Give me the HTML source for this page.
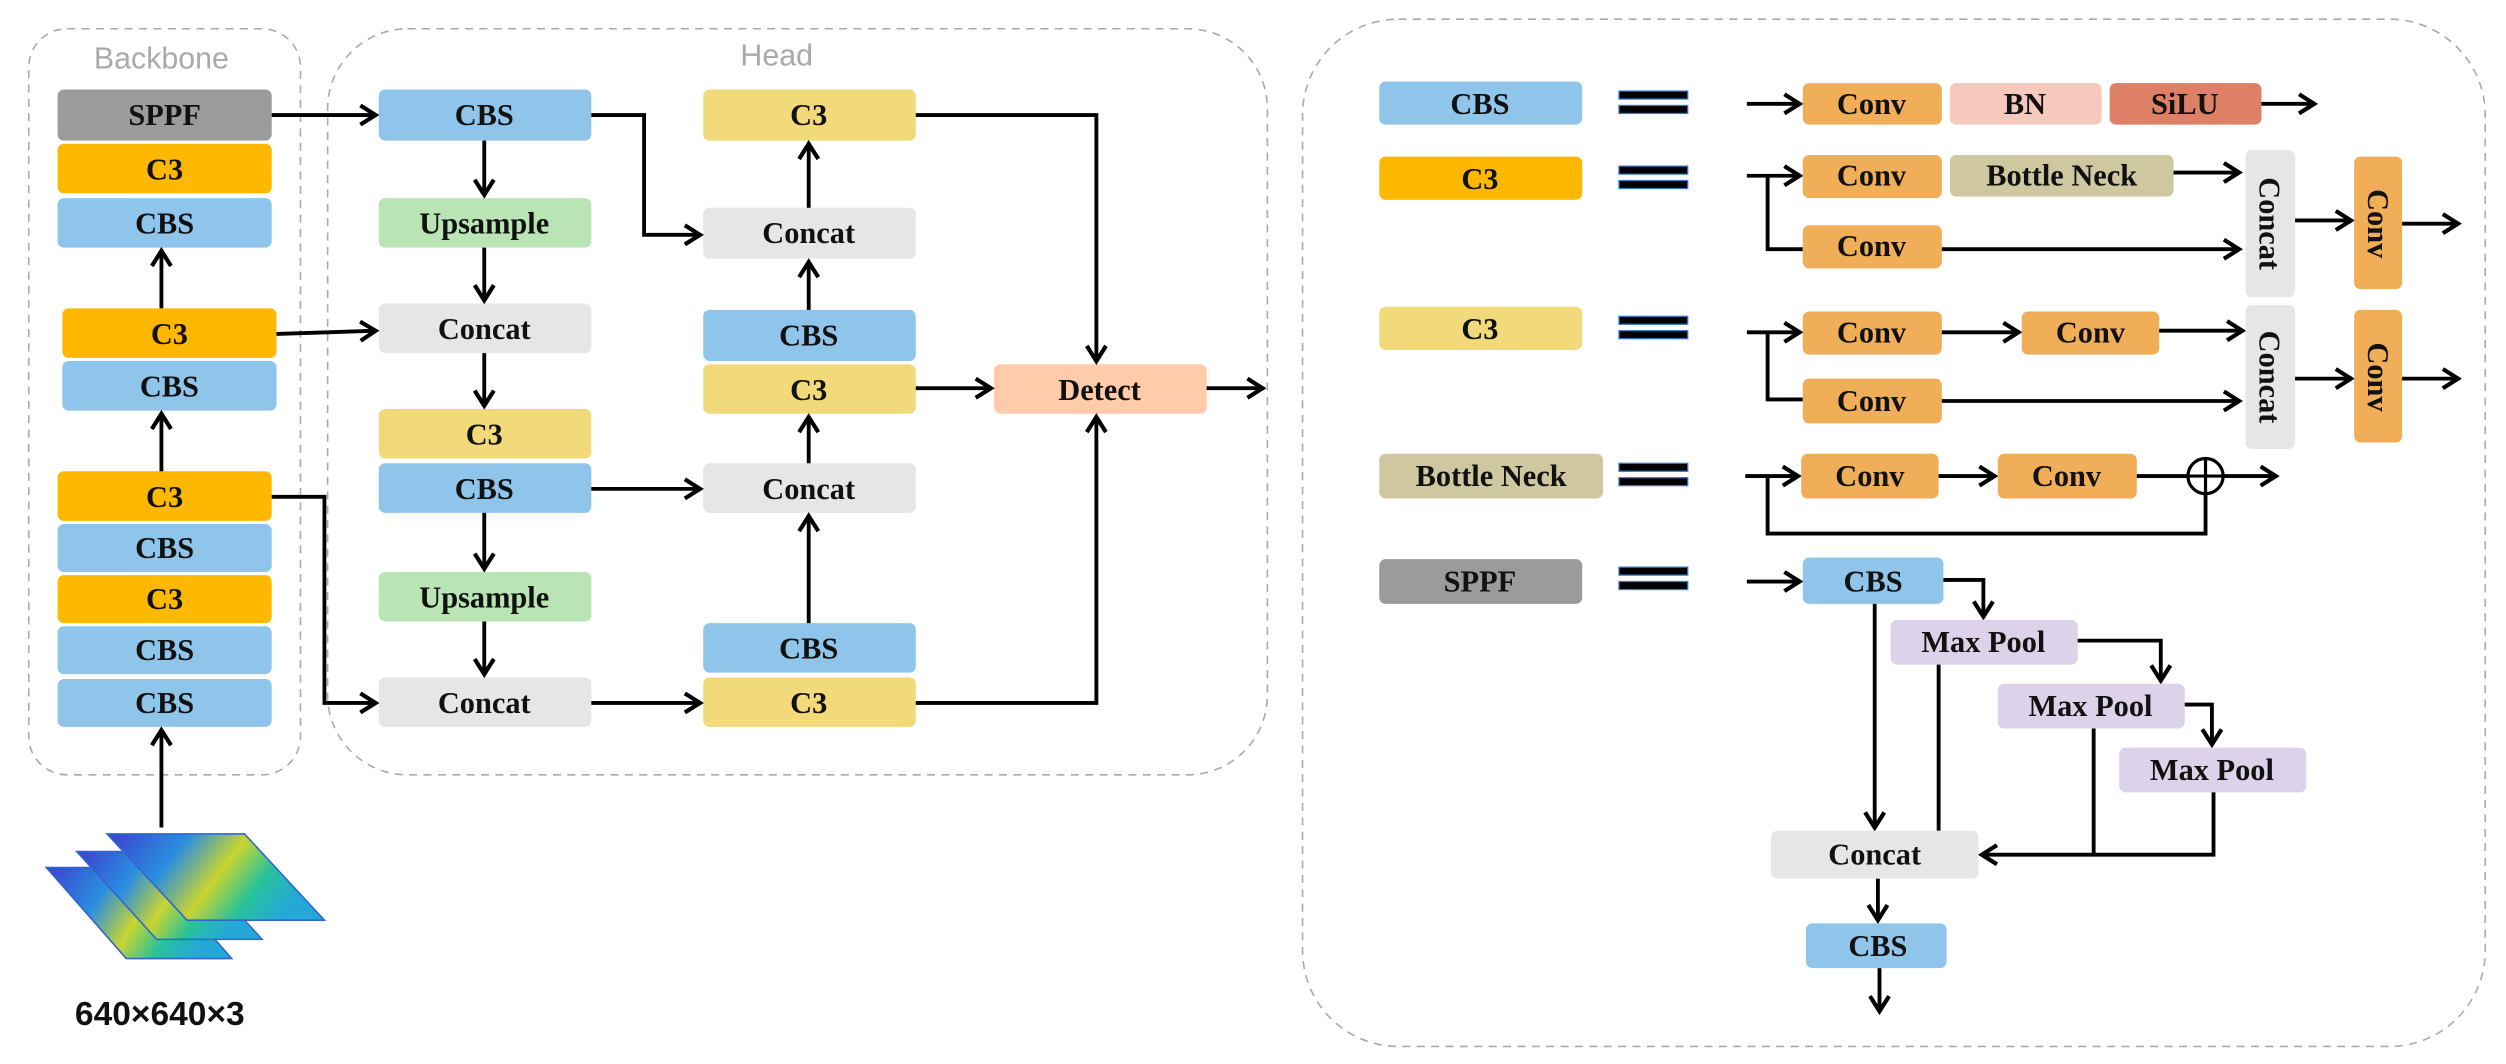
<!DOCTYPE html>
<html><head><meta charset="utf-8"><style>
html,body{margin:0;padding:0;background:#fff;}
svg{display:block;}
text{font-family:"Liberation Serif",serif;font-weight:bold;font-size:19px;fill:#111;text-anchor:middle;dominant-baseline:central;}
.l{fill:none;stroke:#000;stroke-width:2.4;}
</style></head><body>
<svg width="2506" height="1064" viewBox="0 0 1568 666" preserveAspectRatio="none" xmlns="http://www.w3.org/2000/svg">
<defs>
<marker id="a" markerWidth="14" markerHeight="14" refX="11" refY="7" orient="auto" markerUnits="userSpaceOnUse">
<polyline points="1.5,1 11,7 1.5,13" fill="none" stroke="#000" stroke-width="2.6"/>
</marker>
<linearGradient id="g" x1="0" y1="0" x2="1" y2="0.3">
<stop offset="0" stop-color="#3b3fd0"/><stop offset="0.35" stop-color="#2a8ee0"/><stop offset="0.6" stop-color="#c8d530"/><stop offset="0.8" stop-color="#27c29a"/><stop offset="1" stop-color="#25a8d8"/>
</linearGradient>
</defs>
<rect x="18" y="18" width="170" height="467" rx="24" fill="none" stroke="#aaa" stroke-width="1" stroke-dasharray="5,4"/>
<rect x="205" y="18" width="588" height="467" rx="50" fill="none" stroke="#aaa" stroke-width="1" stroke-dasharray="5,4"/>
<rect x="815" y="12" width="740" height="643" rx="60" fill="none" stroke="#aaa" stroke-width="1" stroke-dasharray="5,4"/>
<text x="101" y="37" style="font-family:'Liberation Sans',sans-serif;font-weight:normal;fill:#aaa;font-size:19px">Backbone</text>
<text x="486" y="35" style="font-family:'Liberation Sans',sans-serif;font-weight:normal;fill:#aaa;font-size:19px">Head</text>

<g>
<rect x="36" y="56" width="134" height="32" rx="4" fill="#9b9b9b"/><text x="103" y="72">SPPF</text>
<rect x="36" y="90" width="134" height="31" rx="4" fill="#FFB800"/><text x="103" y="106">C3</text>
<rect x="36" y="124" width="134" height="31" rx="4" fill="#8FC5EA"/><text x="103" y="140">CBS</text>
<rect x="39" y="193" width="134" height="31" rx="4" fill="#FFB800"/><text x="106" y="209">C3</text>
<rect x="39" y="226" width="134" height="31" rx="4" fill="#8FC5EA"/><text x="106" y="242">CBS</text>
<rect x="36" y="295" width="134" height="31" rx="4" fill="#FFB800"/><text x="103" y="311">C3</text>
<rect x="36" y="328" width="134" height="30" rx="4" fill="#8FC5EA"/><text x="103" y="343">CBS</text>
<rect x="36" y="360" width="134" height="30" rx="4" fill="#FFB800"/><text x="103" y="375">C3</text>
<rect x="36" y="392" width="134" height="30" rx="4" fill="#8FC5EA"/><text x="103" y="407">CBS</text>
<rect x="36" y="425" width="134" height="30" rx="4" fill="#8FC5EA"/><text x="103" y="440">CBS</text>
</g>
<line class="l" x1="101" y1="193" x2="101" y2="157" marker-end="url(#a)"/>
<line class="l" x1="101" y1="295" x2="101" y2="259" marker-end="url(#a)"/>
<line class="l" x1="101" y1="518" x2="101" y2="457" marker-end="url(#a)"/>

<g stroke="#3366cc" stroke-width="1">
<polygon points="29,543 95,543 145,600 79,600" fill="url(#g)"/>
<polygon points="48,533 114,533 164,588 98,588" fill="url(#g)"/>
<polygon points="67,522 153,522 203,576 117,576" fill="url(#g)"/>
</g>
<text x="100" y="635" style="font-family:'Liberation Sans',sans-serif;font-size:21px">640×640×3</text>

<rect x="237" y="56" width="133" height="32" rx="4" fill="#8FC5EA"/><text x="303" y="72">CBS</text>
<rect x="237" y="124" width="133" height="31" rx="4" fill="#B9E4B4"/><text x="303" y="140">Upsample</text>
<rect x="237" y="190" width="133" height="31" rx="4" fill="#E6E6E6"/><text x="303" y="206">Concat</text>
<rect x="237" y="256" width="133" height="31" rx="4" fill="#F2DA7A"/><text x="303" y="272">C3</text>
<rect x="237" y="290" width="133" height="31" rx="4" fill="#8FC5EA"/><text x="303" y="306">CBS</text>
<rect x="237" y="358" width="133" height="31" rx="4" fill="#B9E4B4"/><text x="303" y="374">Upsample</text>
<rect x="237" y="424" width="133" height="31" rx="4" fill="#E6E6E6"/><text x="303" y="440">Concat</text>
<rect x="440" y="56" width="133" height="32" rx="4" fill="#F2DA7A"/><text x="506" y="72">C3</text>
<rect x="440" y="130" width="133" height="32" rx="4" fill="#E6E6E6"/><text x="506" y="146">Concat</text>
<rect x="440" y="194" width="133" height="32" rx="4" fill="#8FC5EA"/><text x="506" y="210">CBS</text>
<rect x="440" y="228" width="133" height="31" rx="4" fill="#F2DA7A"/><text x="506" y="244">C3</text>
<rect x="440" y="290" width="133" height="31" rx="4" fill="#E6E6E6"/><text x="506" y="306">Concat</text>
<rect x="440" y="390" width="133" height="31" rx="4" fill="#8FC5EA"/><text x="506" y="406">CBS</text>
<rect x="440" y="424" width="133" height="31" rx="4" fill="#F2DA7A"/><text x="506" y="440">C3</text>
<rect x="622" y="228" width="133" height="31" rx="4" fill="#FFCBAA"/><text x="688" y="244">Detect</text>

<line class="l" x1="170" y1="72" x2="235" y2="72" marker-end="url(#a)"/>
<polyline class="l" points="370,72 403,72 403,147 438,147" marker-end="url(#a)"/>
<polyline class="l" points="573,72 686,72 686,226" marker-end="url(#a)"/>
<line class="l" x1="573" y1="243" x2="620" y2="243" marker-end="url(#a)"/>
<line class="l" x1="755" y1="243" x2="790" y2="243" marker-end="url(#a)"/>
<polyline class="l" points="573,440 686,440 686,261" marker-end="url(#a)"/>
<polyline class="l" points="173,209 205,208 235,207" marker-end="url(#a)"/>
<polyline class="l" points="170,311 203,311 203,440 235,440" marker-end="url(#a)"/>
<line class="l" x1="370" y1="306" x2="438" y2="306" marker-end="url(#a)"/>
<line class="l" x1="370" y1="440" x2="438" y2="440" marker-end="url(#a)"/>
<line class="l" x1="303" y1="88" x2="303" y2="122" marker-end="url(#a)"/>
<line class="l" x1="303" y1="155" x2="303" y2="188" marker-end="url(#a)"/>
<line class="l" x1="303" y1="221" x2="303" y2="254" marker-end="url(#a)"/>
<line class="l" x1="303" y1="321" x2="303" y2="356" marker-end="url(#a)"/>
<line class="l" x1="303" y1="389" x2="303" y2="422" marker-end="url(#a)"/>
<line class="l" x1="506" y1="390" x2="506" y2="323" marker-end="url(#a)"/>
<line class="l" x1="506" y1="290" x2="506" y2="261" marker-end="url(#a)"/>
<line class="l" x1="506" y1="194" x2="506" y2="164" marker-end="url(#a)"/>
<line class="l" x1="506" y1="130" x2="506" y2="90" marker-end="url(#a)"/>

<rect x="863" y="51" width="127" height="27" rx="4" fill="#8FC5EA"/><text x="926" y="65">CBS</text>
<rect x="863" y="98" width="127" height="27" rx="4" fill="#FFB800"/><text x="926" y="112">C3</text>
<rect x="863" y="192" width="127" height="27" rx="4" fill="#F2DA7A"/><text x="926" y="206">C3</text>
<rect x="863" y="284" width="140" height="28" rx="4" fill="#CFC7A0"/><text x="933" y="298">Bottle Neck</text>
<rect x="863" y="350" width="127" height="28" rx="4" fill="#9b9b9b"/><text x="926" y="364">SPPF</text>
<g fill="#000" stroke="#3a78c8" stroke-width="0.8">
<rect x="1013" y="57" width="43" height="5"/><rect x="1013" y="66" width="43" height="5"/>
<rect x="1013" y="104" width="43" height="5"/><rect x="1013" y="113" width="43" height="5"/>
<rect x="1013" y="198" width="43" height="5"/><rect x="1013" y="207" width="43" height="5"/>
<rect x="1013" y="290" width="43" height="5"/><rect x="1013" y="299" width="43" height="5"/>
<rect x="1013" y="355" width="43" height="5"/><rect x="1013" y="364" width="43" height="5"/>
</g>

<line class="l" x1="1093" y1="65" x2="1126" y2="65" marker-end="url(#a)"/>
<rect x="1128" y="52" width="87" height="26" rx="4" fill="#F0AE58"/><text x="1171" y="65">Conv</text>
<rect x="1220" y="52" width="95" height="26" rx="4" fill="#F5C9BE"/><text x="1267" y="65">BN</text>
<rect x="1320" y="52" width="95" height="26" rx="4" fill="#DD8066"/><text x="1367" y="65">SiLU</text>
<line class="l" x1="1415" y1="65" x2="1448" y2="65" marker-end="url(#a)"/>

<polyline class="l" points="1093,110 1126,110" marker-end="url(#a)"/>
<polyline class="l" points="1106,110 1106,156 1128,156"/>
<rect x="1128" y="97" width="87" height="27" rx="4" fill="#F0AE58"/><text x="1171" y="110">Conv</text>
<rect x="1220" y="97" width="140" height="26" rx="4" fill="#CFC7A0"/><text x="1290" y="110">Bottle Neck</text>
<rect x="1128" y="141" width="87" height="27" rx="4" fill="#F0AE58"/><text x="1171" y="154">Conv</text>
<line class="l" x1="1360" y1="108" x2="1401" y2="108" marker-end="url(#a)"/>
<line class="l" x1="1215" y1="156" x2="1401" y2="156" marker-end="url(#a)"/>
<rect x="1405" y="94" width="31" height="92" rx="4" fill="#E6E6E6"/><text transform="translate(1420,140) rotate(90)" x="0" y="0">Concat</text>
<line class="l" x1="1436" y1="138" x2="1471" y2="138" marker-end="url(#a)"/>
<rect x="1473" y="98" width="30" height="83" rx="4" fill="#F0AE58"/><text transform="translate(1488,140) rotate(90)" x="0" y="0">Conv</text>
<line class="l" x1="1503" y1="140" x2="1538" y2="140" marker-end="url(#a)"/>

<polyline class="l" points="1093,208 1126,208" marker-end="url(#a)"/>
<polyline class="l" points="1106,208 1106,250 1128,250"/>
<rect x="1128" y="195" width="87" height="27" rx="4" fill="#F0AE58"/><text x="1171" y="208">Conv</text>
<line class="l" x1="1215" y1="208" x2="1263" y2="208" marker-end="url(#a)"/>
<rect x="1265" y="195" width="86" height="27" rx="4" fill="#F0AE58"/><text x="1308" y="208">Conv</text>
<line class="l" x1="1351" y1="207" x2="1403" y2="207" marker-end="url(#a)"/>
<rect x="1128" y="237" width="87" height="28" rx="4" fill="#F0AE58"/><text x="1171" y="251">Conv</text>
<line class="l" x1="1215" y1="251" x2="1401" y2="251" marker-end="url(#a)"/>
<rect x="1405" y="191" width="31" height="90" rx="4" fill="#E6E6E6"/><text transform="translate(1420,236) rotate(90)" x="0" y="0">Concat</text>
<line class="l" x1="1436" y1="237" x2="1471" y2="237" marker-end="url(#a)"/>
<rect x="1473" y="194" width="30" height="83" rx="4" fill="#F0AE58"/><text transform="translate(1488,236) rotate(90)" x="0" y="0">Conv</text>
<line class="l" x1="1503" y1="237" x2="1538" y2="237" marker-end="url(#a)"/>

<line class="l" x1="1092" y1="298" x2="1125" y2="298" marker-end="url(#a)"/>
<polyline class="l" points="1106,298 1106,334 1380,334 1380,309"/>
<rect x="1127" y="284" width="86" height="28" rx="4" fill="#F0AE58"/><text x="1170" y="298">Conv</text>
<line class="l" x1="1213" y1="298" x2="1248" y2="298" marker-end="url(#a)"/>
<rect x="1250" y="284" width="87" height="28" rx="4" fill="#F0AE58"/><text x="1293" y="298">Conv</text>
<line class="l" x1="1337" y1="298" x2="1369" y2="298"/>
<circle cx="1380" cy="298" r="11" fill="none" stroke="#000" stroke-width="2"/>
<line x1="1369" y1="298" x2="1391" y2="298" stroke="#000" stroke-width="2"/>
<line x1="1380" y1="287" x2="1380" y2="309" stroke="#000" stroke-width="2"/>
<line class="l" x1="1391" y1="298" x2="1424" y2="298" marker-end="url(#a)"/>

<line class="l" x1="1093" y1="364" x2="1126" y2="364" marker-end="url(#a)"/>
<rect x="1128" y="349" width="88" height="29" rx="4" fill="#8FC5EA"/><text x="1172" y="364">CBS</text>
<polyline class="l" points="1216,363 1241,363 1241,386" marker-end="url(#a)"/>
<rect x="1183" y="388" width="117" height="28" rx="4" fill="#DCD3EA"/><text x="1241" y="402">Max Pool</text>
<polyline class="l" points="1300,401 1352,401 1352,426" marker-end="url(#a)"/>
<rect x="1250" y="428" width="117" height="28" rx="4" fill="#DCD3EA"/><text x="1308" y="442">Max Pool</text>
<polyline class="l" points="1367,441 1384,441 1384,466" marker-end="url(#a)"/>
<rect x="1326" y="468" width="117" height="28" rx="4" fill="#DCD3EA"/><text x="1384" y="482">Max Pool</text>
<line class="l" x1="1173" y1="378" x2="1173" y2="518" marker-end="url(#a)"/>
<line class="l" x1="1213" y1="416" x2="1213" y2="520"/>
<line class="l" x1="1310" y1="456" x2="1310" y2="535"/>
<polyline class="l" points="1385,496 1385,535 1240,535" marker-end="url(#a)"/>
<rect x="1108" y="520" width="130" height="30" rx="4" fill="#E6E6E6"/><text x="1173" y="535">Concat</text>
<line class="l" x1="1175" y1="550" x2="1175" y2="576" marker-end="url(#a)"/>
<rect x="1130" y="578" width="88" height="28" rx="4" fill="#8FC5EA"/><text x="1175" y="592">CBS</text>
<line class="l" x1="1176" y1="606" x2="1176" y2="633" marker-end="url(#a)"/>
</svg>
</body></html>
